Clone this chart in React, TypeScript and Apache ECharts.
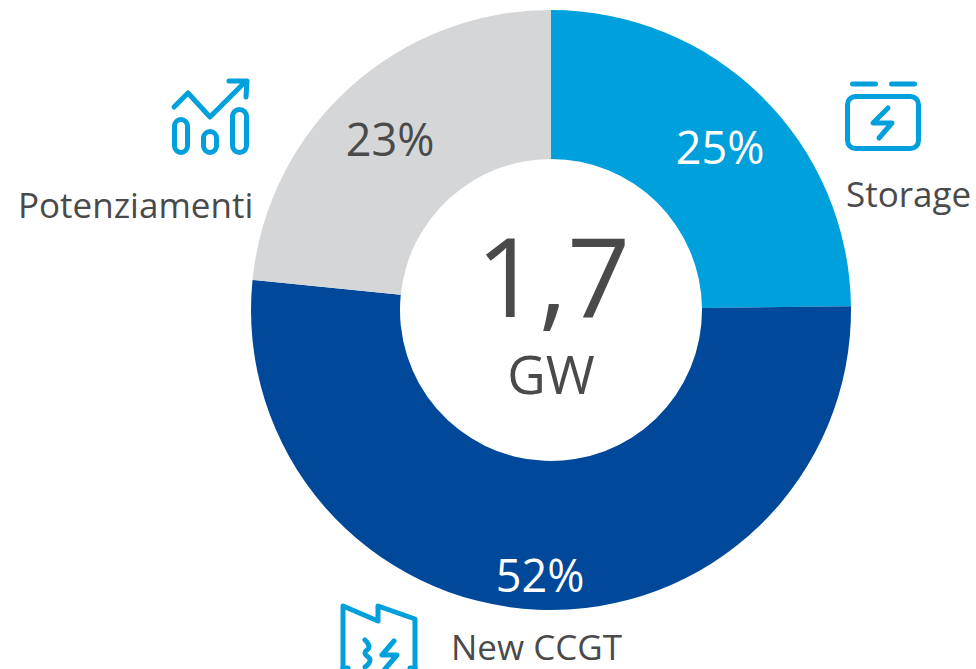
import React, { useEffect, useRef } from "react";
import * as echarts from "echarts";

const categories = ["Storage", "New CCGT", "Potenziamenti"];
const values = [24.8, 51.8, 23.4];
const sliceColors = ["#00A0DC", "#004899", "#D5D6D8"];
const labelColors = ["#FFFFFF", "#FFFFFF", "#4A4A4A"];
const centerValue = "1,7";
const centerUnit = "GW";

const FONT = "'Open Sans', 'Noto Sans', sans-serif";
const TEXT = "#4A4A4A";
const ICON = "#00A0DC";

const iconStyle = { stroke: ICON, fill: "none", lineWidth: 5, lineCap: "round", lineJoin: "round" };
const poly = (points: number[][], smooth?: number) => ({
  type: "polyline",
  shape: { points, smooth: smooth || 0 },
  style: iconStyle,
  silent: true,
});
const box = (x: number, y: number, width: number, height: number, r: number) => ({
  type: "rect",
  shape: { x, y, width, height, r },
  style: iconStyle,
  silent: true,
});
const caption = (text: string, x: number, y: number, align: string) => ({
  type: "text",
  x,
  y,
  style: { text, fill: TEXT, font: `35px ${FONT}`, textAlign: align, textVerticalAlign: "middle" },
  silent: true,
});

export default function App() {
  const ref = useRef<HTMLDivElement>(null);
  useEffect(() => {
    document.body.style.margin = "0";
    const chart = echarts.init(ref.current!, null, { renderer: "svg" });
    chart.setOption({
      animation: false,
      backgroundColor: "#FFFFFF",
      series: [
        {
          type: "pie",
          center: [551, 310],
          radius: [151, 300],
          startAngle: 90,
          clockwise: true,
          silent: true,
          data: categories.map((name, i) => ({
            name,
            value: values[i],
            itemStyle: { color: sliceColors[i] },
            label: { color: labelColors[i] },
          })),
          label: {
            show: true,
            position: "inside",
            formatter: (p: any) => `${Math.round(p.value)}%`,
            fontFamily: FONT,
            fontSize: 45,
          },
          labelLine: { show: false },
          labelLayout: (p: any) =>
            p.dataIndex === 0
              ? { x: 720, y: 146 }
              : p.dataIndex === 1
              ? { x: 540, y: 574 }
              : { x: 390, y: 138 },
        },
      ],
      graphic: [
        {
          type: "text", x: 553, y: 274,
          style: { text: centerValue, fill: TEXT, font: `110px ${FONT}`, lineHeight: 100, textAlign: "center", textVerticalAlign: "middle" },
          silent: true,
        },
        {
          type: "text", x: 551, y: 373,
          style: { text: centerUnit, fill: TEXT, font: `53px ${FONT}`, lineHeight: 48, textAlign: "center", textVerticalAlign: "middle" },
          silent: true,
        },
        caption(categories[0], 846, 193, "left"),
        caption(categories[1], 451, 646, "left"),
        caption(categories[2], 18, 204, "left"),
        // Storage icon
        poly([[852.5, 84], [875.5, 84]]),
        poly([[891.5, 84], [914.5, 84]]),
        box(847.5, 96.5, 71, 52, 8),
        poly([[888, 108], [873, 123], [892, 123], [879, 138]]),
        // Potenziamenti icon
        poly([[174, 107], [188, 93], [210, 117], [245, 82]]),
        poly([[229, 81], [247, 81], [246, 97]]),
        box(174.5, 119.5, 13, 33, 6.5),
        box(203.5, 131.5, 13, 21, 6.5),
        box(232.5, 109.5, 14, 43, 7),
        // New CCGT icon
        poly([[343, 672], [343, 606], [378, 621], [378, 606], [415, 619], [415, 672]]),
        poly([[343, 668], [348, 668]]),
        poly([[410, 668], [415, 668]]),
        poly([[365, 640], [369, 647], [365, 653], [370, 660], [365, 667]], 0.5),
        poly([[394, 641], [382, 655], [397, 655], [385, 669]]),
      ],
    });
    return () => chart.dispose();
  }, []);
  return <div ref={ref} style={{ width: 976, height: 669 }} />;
}
